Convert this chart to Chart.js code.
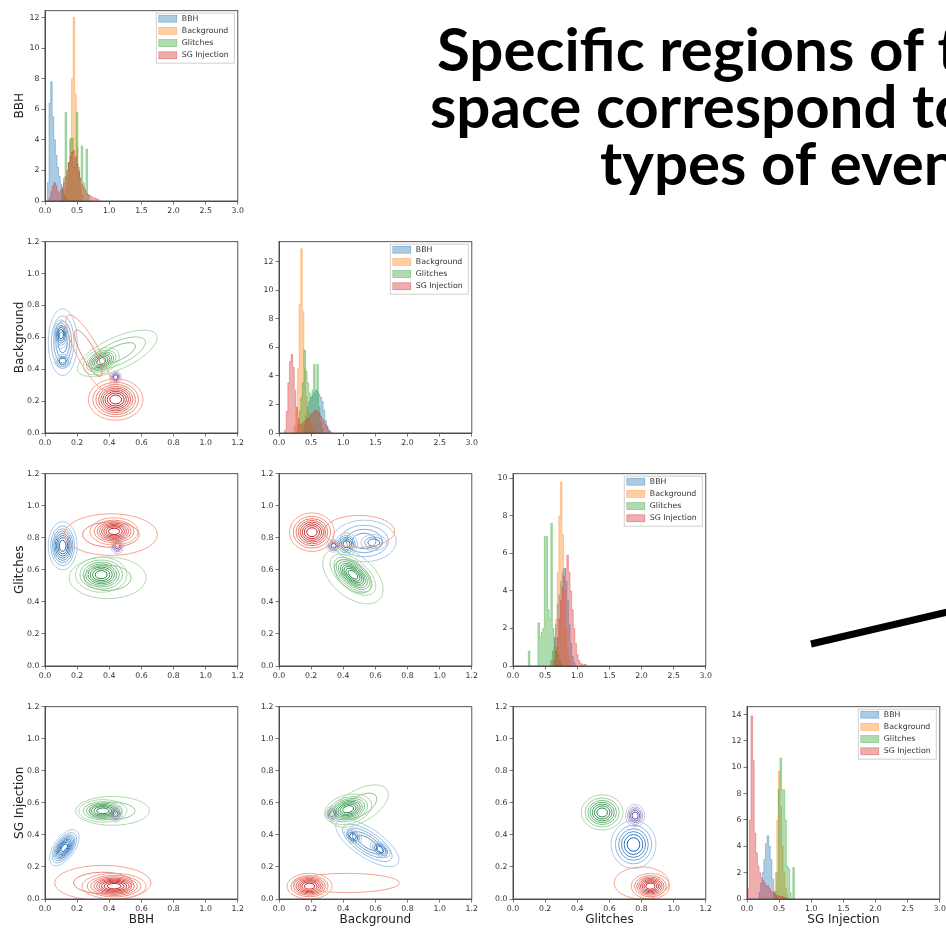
<!DOCTYPE html>
<html>
<head>
<meta charset="utf-8">
<script src="https://cdn.jsdelivr.net/npm/chart.js@4.4.1/dist/chart.umd.min.js"></script>
<style>
  body { margin: 0; width: 946px; height: 929px; overflow: hidden; background: #fff; position: relative; }
  .panel { position: absolute; }
  .headline { position: absolute; font-family: Lato, "Open Sans", sans-serif; font-weight: 700; font-size: 60px; line-height: 60px; white-space: nowrap; color: #000; }
</style>
</head>
<body>
<div class="headline" style="left:437px;top:18px">Specific regions of the latent</div>
<div class="headline" style="left:430px;top:75px">space correspond to specific</div>
<div class="headline" style="left:600px;top:132px">types of events</div>
<svg style="position:absolute;left:0;top:0" width="946" height="929">
  <line x1="811" y1="644" x2="960" y2="609" stroke="#000" stroke-width="7"/>
</svg>
<script>
const classes = ["BBH", "Background", "Glitches", "SG Injection"];
const binWidth = 0.025;

// diagonal histograms: first bin centre of each class, then bin heights (BBH, Background, Glitches, SG Injection)
const startsOnBBH = [0.025, 0.275, 0.25, 0.05];
const bbhOnBBH = [0, 1.2, 6.4, 7.8, 5.5, 4.0, 3.0, 2.2, 1.6, 1.1, 0.7, 0.4, 0.2, 0];
const bgOnBBH = [0, 0.3, 0.8, 1.5, 2.5, 4.0, 8.0, 12.0, 7.0, 3.5, 2.0, 1.0, 0.4, 0];
const glOnBBH = [0, 0.8, 1.5, 5.8, 2.0, 2.5, 4.1, 4.1, 2.2, 2.8, 5.8, 2.2, 1.5, 3.6, 1.2, 0.8, 3.4, 0.4, 0];
const sgOnBBH = [0, 0.2, 0.6, 1.0, 1.2, 1.0, 0.6, 0.5, 0.7, 0.9, 1.2, 1.6, 2.0, 2.5, 2.9, 3.2, 3.3, 2.9, 2.4, 1.9, 1.5, 1.1, 0.9, 0.7, 0.5, 0.4, 0.35, 0.3, 0.2, 0.2, 0.15, 0.1, 0];

const startsOnBG = [0.375, 0.225, 0.275, 0.075];
const bbhOnBG = [0, 0.5, 1.2, 1.8, 2.2, 2.5, 2.6, 2.8, 3.0, 2.9, 2.7, 2.5, 2.2, 1.6, 0.9, 0.5, 0.2, 0];
const bgOnBG = [0, 0.5, 1.8, 4.5, 9.0, 12.9, 8.5, 4.5, 2.5, 1.5, 0.8, 0.4, 0.2, 0];
const glOnBG = [0, 0.5, 1.5, 2.5, 3.5, 5.8, 4.3, 3.5, 2.8, 2.5, 3.0, 4.8, 2.6, 4.8, 1.8, 0.8, 0.3, 0];
const sgOnBG = [0, 0.2, 1.5, 3.5, 5.0, 5.5, 4.6, 3.0, 1.8, 1.0, 0.6, 0.6, 0.7, 0.8, 0.9, 1.0, 1.1, 1.3, 1.4, 1.5, 1.6, 1.5, 1.4, 1.2, 1.0, 0.8, 0.6, 0.4, 0.2, 0.1, 0];

const startsOnGL = [0.575, 0.6, 0.225, 0.625];
const bbhOnGL = [0, 0.3, 0.8, 1.5, 2.2, 3.3, 3.8, 4.5, 5.0, 5.2, 4.5, 3.5, 2.2, 1.2, 0.5, 0.2, 0];
const bgOnGL = [0, 0.3, 1.0, 2.5, 5.0, 8.0, 9.8, 7.0, 4.0, 2.0, 0.8, 0.3, 0];
const glOnGL = [0, 0.8, 0, 0, 0, 0, 0, 2.3, 1.5, 1.8, 2.0, 6.9, 6.9, 3.0, 2.5, 7.6, 2.0, 1.5, 1.0, 0.6, 0.3, 0.1, 0];
const sgOnGL = [0, 0.3, 0.8, 1.5, 2.5, 3.5, 4.2, 4.8, 5.2, 5.9, 5.0, 4.0, 3.0, 2.0, 1.2, 0.6, 0.3, 0.15, 0.1, 0.05, 0.1, 0];

const startsOnSG = [0.175, 0.4, 0.425, 0.0];
const bbhOnSG = [0, 0.5, 1.2, 2.0, 3.0, 4.2, 4.8, 4.0, 3.0, 1.5, 0.6, 0.2, 0];
const bgOnSG = [0, 0.5, 2.0, 6.0, 9.7, 7.0, 4.0, 2.0, 0.8, 0.3, 0];
const glOnSG = [0, 0.5, 2.0, 8.3, 10.7, 8.3, 8.3, 6.0, 2.5, 2.3, 0.5, 0, 2.4, 0];
const sgOnSG = [0, 0.8, 6.0, 13.9, 10.5, 5.0, 3.5, 2.5, 2.0, 1.6, 1.4, 1.2, 1.0, 1.0, 0.8, 0.6, 0.5, 0.4, 0.3, 0.3, 0.2, 0.2, 0.2, 0.1, 0.1, 0];

const histTop = [12.45, 13.4, 10.25, 14.6];

// kde blobs: [class, centre x, centre y, half width, half height, tilt deg, levels, strength]
const kdeBgVsBbh = [
  [0, 0.11, 0.57, 0.09, 0.21, 0, 5, 0.55],
  [0, 0.10, 0.62, 0.045, 0.09, 0, 5, 1],
  [0, 0.11, 0.45, 0.05, 0.045, 0, 3, 0.9],
  [3, 0.44, 0.21, 0.17, 0.13, 0, 9, 1],
  [3, 0.27, 0.50, 0.27, 0.07, -62, 2, 0.3],
  [2, 0.35, 0.45, 0.12, 0.075, 25, 7, 1],
  [2, 0.45, 0.50, 0.27, 0.10, 25, 3, 0.35],
  [1, 0.44, 0.35, 0.035, 0.04, 0, 4, 1]
];
const kdeGlVsBbh = [
  [0, 0.11, 0.75, 0.09, 0.15, 0, 8, 1],
  [3, 0.43, 0.84, 0.15, 0.085, 0, 8, 1],
  [3, 0.41, 0.82, 0.29, 0.13, 0, 2, 0.3],
  [2, 0.35, 0.57, 0.16, 0.11, 0, 8, 1],
  [2, 0.39, 0.55, 0.24, 0.13, 0, 2, 0.3],
  [1, 0.45, 0.75, 0.04, 0.05, 0, 4, 1]
];
const kdeGlVsBg = [
  [3, 0.205, 0.835, 0.14, 0.12, 0, 8, 1],
  [3, 0.50, 0.84, 0.22, 0.10, 0, 1, 0.3],
  [0, 0.53, 0.78, 0.20, 0.13, 0, 4, 0.5],
  [0, 0.42, 0.76, 0.07, 0.07, 0, 5, 1],
  [0, 0.59, 0.77, 0.08, 0.05, 0, 3, 0.8],
  [2, 0.46, 0.57, 0.17, 0.09, -40, 9, 1],
  [2, 0.46, 0.56, 0.22, 0.13, -40, 2, 0.3],
  [1, 0.34, 0.75, 0.045, 0.04, 0, 4, 1]
];
const kdeSgVsBbh = [
  [0, 0.12, 0.32, 0.13, 0.065, 55, 9, 1],
  [2, 0.36, 0.55, 0.15, 0.07, 0, 7, 1],
  [2, 0.42, 0.55, 0.23, 0.09, 0, 2, 0.3],
  [1, 0.44, 0.53, 0.04, 0.05, 0, 4, 1],
  [3, 0.43, 0.08, 0.20, 0.08, 0, 9, 1],
  [3, 0.36, 0.10, 0.30, 0.11, 0, 2, 0.3]
];
const kdeSgVsBg = [
  [2, 0.43, 0.56, 0.15, 0.09, 15, 8, 1],
  [2, 0.50, 0.58, 0.20, 0.10, 30, 2, 0.3],
  [1, 0.33, 0.53, 0.04, 0.05, 0, 4, 1],
  [0, 0.55, 0.35, 0.23, 0.09, -34, 5, 0.6],
  [0, 0.46, 0.39, 0.06, 0.04, -34, 4, 1],
  [0, 0.63, 0.31, 0.07, 0.04, -34, 4, 1],
  [3, 0.19, 0.08, 0.14, 0.08, 0, 8, 1],
  [3, 0.42, 0.10, 0.33, 0.06, 0, 1, 0.3]
];
const kdeSgVsGl = [
  [2, 0.555, 0.54, 0.13, 0.11, 0, 7, 1],
  [1, 0.76, 0.52, 0.06, 0.07, 0, 5, 1],
  [0, 0.75, 0.34, 0.14, 0.15, 0, 6, 1],
  [3, 0.855, 0.08, 0.12, 0.08, 0, 8, 1],
  [3, 0.80, 0.10, 0.17, 0.10, 0, 1, 0.3]
];

// look
const histColors = ["31,119,180", "255,127,14", "44,160,44", "214,39,40"];
const cmaps = [
  [[190, 214, 236], [25, 100, 175]],  // Blues
  [[214, 212, 234], [100, 70, 160]],  // Purples
  [[190, 228, 183], [30, 130, 60]],   // Greens
  [[250, 180, 155], [195, 25, 30]]    // Reds
];
const colLeft = [45, 279, 513, 747];
const rowTop = [10, 241, 473, 706];
const rowBottom = [201, 433, 666, 899];
const plotW = 195;
const padL = 40, padR = 6, padT = 6, padB = 30;
const tickFont = { family: "DejaVu Sans", size: 7.8 };

function mix(cm, t) {
  const a = cm[0], b = cm[1];
  return "rgb(" + a.map((v, i) => Math.round(v + (b[i] - v) * t)).join(",") + ")";
}

// box around the plot area, like matplotlib spines
const frame = {
  id: "frame",
  afterDraw(chart) {
    const a = chart.chartArea, ctx = chart.ctx;
    ctx.save();
    ctx.strokeStyle = "#444";
    ctx.lineWidth = 0.9;
    ctx.strokeRect(a.left, a.top, a.right - a.left, a.bottom - a.top);
    ctx.restore();
  }
};

// matplotlib style legend inside the top right corner
const boxLegend = {
  id: "boxLegend",
  afterDraw(chart, args, opts) {
    if (!opts.show) return;
    const a = chart.chartArea, ctx = chart.ctx;
    const w = 78, h = 50, x = a.right - 4 - w, y = a.top + 2;
    ctx.save();
    ctx.fillStyle = "rgba(255,255,255,0.85)";
    ctx.fillRect(x, y, w, h);
    ctx.strokeStyle = "#d0d0d0";
    ctx.lineWidth = 1;
    ctx.strokeRect(x + 0.5, y + 0.5, w, h);
    ctx.font = '7.8px "DejaVu Sans"';
    ctx.textBaseline = "middle";
    chart.data.datasets.forEach((ds, i) => {
      const cy = y + 6 + i * 12.2;
      ctx.fillStyle = ds.backgroundColor;
      ctx.fillRect(x + 3, cy - 3.5, 18, 7);
      ctx.strokeStyle = ds.borderColor;
      ctx.lineWidth = 0.6;
      ctx.strokeRect(x + 3, cy - 3.5, 18, 7);
      ctx.fillStyle = "#333";
      ctx.fillText(ds.label, x + 26, cy);
    });
    ctx.restore();
  }
};

// density contours around each blob centre
const kdeRings = {
  id: "kdeRings",
  afterDatasetsDraw(chart) {
    if (chart.config.type !== "scatter") return;
    const ctx = chart.ctx, a = chart.chartArea;
    const xs = chart.scales.x, ys = chart.scales.y;
    const ux = xs.getPixelForValue(1) - xs.getPixelForValue(0);
    const uy = ys.getPixelForValue(0) - ys.getPixelForValue(1);
    ctx.save();
    ctx.beginPath();
    ctx.rect(a.left, a.top, a.right - a.left, a.bottom - a.top);
    ctx.clip();
    chart.data.datasets.forEach((ds, di) => {
      const meta = chart.getDatasetMeta(di);
      meta.data.forEach((pt, i) => {
        const b = ds.data[i];
        const n = b.levels;
        const outer = Math.sqrt(-Math.log(1 / (n + 1)));
        for (let k = 1; k <= n; k++) {
          const r = Math.sqrt(-Math.log(k / (n + 1))) / outer;
          const t = n > 1 ? (k - 1) / (n - 1) : 0;
          const lo = Math.min(0.1, b.weight);
          ctx.save();
          ctx.translate(pt.x, pt.y);
          ctx.scale(ux, -uy);
          ctx.rotate(b.rot * Math.PI / 180);
          ctx.beginPath();
          ctx.ellipse(0, 0, b.rx * r, b.ry * r, 0, 0, 2 * Math.PI);
          ctx.restore();
          ctx.strokeStyle = mix(ds.cmap, lo + (b.weight - lo) * t);
          ctx.lineWidth = 1;
          ctx.stroke();
        }
      });
    });
    ctx.restore();
  }
};

Chart.register(frame, boxLegend, kdeRings);

function addCanvas(row, col) {
  const c = document.createElement("canvas");
  const h = rowBottom[row] - rowTop[row];
  c.width = padL + plotW + padR;
  c.height = padT + h + padB;
  c.className = "panel";
  c.style.left = (colLeft[col] - padL) + "px";
  c.style.top = (rowTop[row] - padT) + "px";
  document.body.appendChild(c);
  return c;
}

function axis(min, max, step, fmt, title, isX) {
  return {
    type: "linear",
    min: min,
    max: max,
    offset: false,
    grid: { drawOnChartArea: false, drawTicks: true, tickLength: 3.5, color: "#555", lineWidth: 0.8, offset: false },
    border: { display: true, color: "#444", width: 0.9 },
    ticks: { stepSize: step, includeBounds: false, autoSkip: false, maxRotation: 0, padding: 2, color: "#333", font: tickFont, callback: fmt },
    title: {
      display: !!title,
      text: title || "",
      color: "#222",
      font: { family: "DejaVu Sans", size: 12 },
      padding: isX ? { top: 0, bottom: 2 } : { top: 8, bottom: 0 }
    },
    afterFit: isX ? (s) => { s.height = padB; } : (s) => { s.width = padL; }
  };
}

const oneDecimal = (v) => Number(v).toFixed(1);
const whole = (v) => String(v);

function baseOptions(xAxis, yAxis, legend) {
  return {
    responsive: false,
    animation: false,
    devicePixelRatio: 1,
    events: [],
    layout: { padding: { top: padT, right: padR, left: 0, bottom: 0 } },
    scales: { x: xAxis, y: yAxis },
    plugins: { legend: { display: false }, tooltip: { enabled: false }, boxLegend: { show: legend } }
  };
}

// histograms as filled step outlines, one per class, later classes on top
function histPanel(i, starts, series) {
  const datasets = series.map((vals, k) => ({
    label: classes[k],
    data: vals.map((v, j) => ({ x: Math.round((starts[k] + j * binWidth) * 1000) / 1000, y: v })),
    backgroundColor: "rgba(" + histColors[k] + ",0.38)",
    borderColor: "rgba(" + histColors[k] + ",0.55)",
    borderWidth: 0.6,
    stepped: "middle",
    fill: "origin",
    pointRadius: 0,
    order: 3 - k
  }));
  new Chart(addCanvas(i, i), {
    type: "line",
    data: { datasets: datasets },
    options: baseOptions(
      axis(0, 3, 0.5, oneDecimal, i === 3 ? classes[3] : null, true),
      axis(0, histTop[i], 2, whole, i === 0 ? classes[0] : null, false),
      true
    )
  });
}

function kdePanel(row, col, blobs) {
  const datasets = classes.map((name, k) => ({
    label: name,
    data: blobs.filter((b) => b[0] === k).map((b) => ({ x: b[1], y: b[2], rx: b[3], ry: b[4], rot: b[5], levels: b[6], weight: b[7] })),
    cmap: cmaps[k],
    pointRadius: 0,
    showLine: false
  }));
  new Chart(addCanvas(row, col), {
    type: "scatter",
    data: { datasets: datasets },
    options: baseOptions(
      axis(0, 1.2, 0.2, oneDecimal, row === 3 ? classes[col] : null, true),
      axis(0, 1.2, 0.2, oneDecimal, col === 0 ? classes[row] : null, false),
      false
    )
  });
}

histPanel(0, startsOnBBH, [bbhOnBBH, bgOnBBH, glOnBBH, sgOnBBH]);
histPanel(1, startsOnBG, [bbhOnBG, bgOnBG, glOnBG, sgOnBG]);
histPanel(2, startsOnGL, [bbhOnGL, bgOnGL, glOnGL, sgOnGL]);
histPanel(3, startsOnSG, [bbhOnSG, bgOnSG, glOnSG, sgOnSG]);

kdePanel(1, 0, kdeBgVsBbh);
kdePanel(2, 0, kdeGlVsBbh);
kdePanel(2, 1, kdeGlVsBg);
kdePanel(3, 0, kdeSgVsBbh);
kdePanel(3, 1, kdeSgVsBg);
kdePanel(3, 2, kdeSgVsGl);
</script>
</body>
</html>
